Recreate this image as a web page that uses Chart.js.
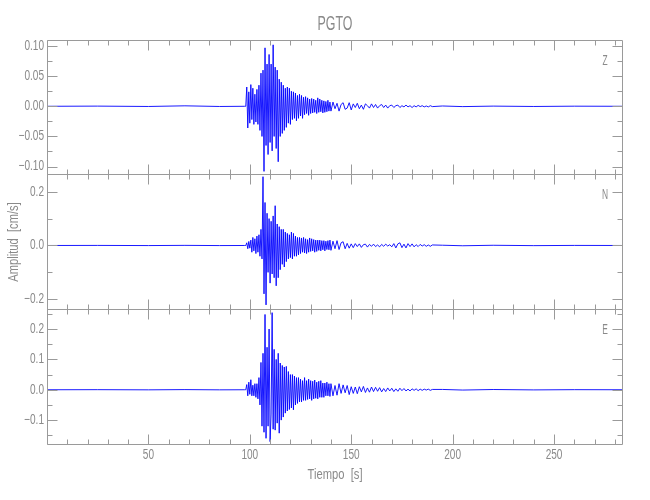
<!DOCTYPE html>
<html>
<head>
<meta charset="utf-8">
<script src="https://cdn.jsdelivr.net/npm/chart.js@4/dist/chart.umd.min.js"></script>
<style>
  body { margin: 0; background: #fff; }
  #caja { position: relative; width: 650px; height: 500px; }
  #caja canvas { position: absolute; left: 0; top: 0; }
</style>
</head>
<body>
<div id="caja">
  <canvas id="panelZ" width="650" height="500"></canvas>
  <canvas id="panelN" width="650" height="500"></canvas>
  <canvas id="panelE" width="650" height="500"></canvas>
</div>
<script>
// tiempos de muestreo [s]
const tiempoPre = [0, 25, 50, 68, 85, 97.5];
const tiempoCola = [195, 205, 220, 240, 260, 284];
// 98..140 cada 0.5 s, 141..190 cada 1 s (muestreo de la traza)
function rejilla(desde, hasta, paso) {
  const t = [];
  for (let v = desde; v <= hasta + 1e-9; v += paso) t.push(+v.toFixed(2));
  return t;
}
const tiempo = [...tiempoPre, ...rejilla(98, 140, 0.5), ...rejilla(141, 190, 1), ...tiempoCola];

// amplitud [cm/s] componente Z
const ampZ = [
  0, 0.0003, -0.0003, 0.0008, -0.0003, 0,
  0, 0.032, -0.036, 0.024, -0.028, 0.036, -0.022, 0.03, -0.03, 0.02,
  -0.026, 0.028, -0.03, 0.035, -0.04, 0.055, -0.05, 0.06, -0.108, 0.097,
  -0.065, 0.07, -0.08, 0.086, -0.06, 0.07, -0.074, 0.102, -0.05, 0.065,
  -0.07, 0.06, -0.092, 0.045, -0.05, 0.04, -0.045, 0.035, -0.04, 0.03,
  -0.035, 0.032, -0.028, 0.03, -0.03, 0.025, -0.022, 0.024, -0.02, 0.022,
  -0.024, 0.018, -0.02, 0.02, -0.016, 0.018, -0.02, 0.015, -0.014, 0.016,
  -0.012, 0.014, -0.015, 0.012, -0.012, 0.013, -0.011, 0.012, -0.01, 0.01,
  -0.012, 0.014, -0.01, 0.012, -0.009, 0.01, -0.011, 0.009, -0.01, 0.008,
  -0.009, 0.01, -0.008, 0.007, -0.008,
  0.007, -0.004, 0.005, -0.008, 0.003, 0.006, -0.005, -0.003, 0.006, -0.006,
  0.004, -0.002, 0.005, -0.004, 0.002, -0.005, 0.004, 0.001, -0.003, 0.004,
  -0.002, 0.003, -0.003, 0.001, 0.003, -0.002, 0.002, -0.003, 0.001, 0.002,
  -0.002, 0.001, 0.002, -0.002, 0.001, -0.001, 0.002, -0.001, 0.001, -0.002,
  0.001, -0.001, 0.0015, -0.0005, 0.001, -0.001, 0.0005, -0.001, 0.001, -0.0005,
  0.0005, -0.0005, 0.0003, -0.0003, 0.0002, 0
];
// componente N
const ampN = [
  0, 0.0003, -0.0003, 0.0005, -0.0003, 0,
  0, 0.01, -0.012, 0.015, -0.01, 0.02, -0.025, 0.03, -0.02, 0.025,
  -0.03, 0.035, -0.025, 0.04, -0.04, 0.06, -0.05, 0.256, -0.18, 0.16,
  -0.221, 0.12, -0.1, 0.1, -0.14, 0.09, -0.106, 0.11, -0.12, 0.148,
  -0.15, 0.08, -0.12, 0.07, -0.09, 0.06, -0.07, 0.06, -0.08, 0.05,
  -0.06, 0.045, -0.05, 0.04, -0.045, 0.05, -0.05, 0.045, -0.04, 0.035,
  -0.04, 0.03, -0.035, 0.03, -0.03, 0.028, -0.025, 0.03, -0.028, 0.025,
  -0.03, 0.022, -0.025, 0.028, -0.022, 0.025, -0.02, 0.022, -0.025, 0.02,
  -0.022, 0.02, -0.018, 0.02, -0.02, 0.018, -0.016, 0.018, -0.02, 0.016,
  -0.015, 0.018, -0.016, 0.02, -0.018,
  0.016, -0.012, 0.018, -0.015, 0.01, 0.014, -0.012, 0.008, -0.01, 0.006,
  -0.008, 0.007, -0.004, 0.006, -0.007, 0.003, 0.005, -0.006, 0.004, -0.003,
  0.005, -0.004, 0.002, -0.005, 0.004, -0.003, 0.005, -0.002, 0.003, -0.005,
  0.007, -0.009, 0.006, 0.01, -0.008, 0.005, -0.009, 0.007, -0.004, 0.006,
  -0.005, 0.003, -0.004, 0.004, -0.002, 0.003, -0.003, 0.002, -0.003, 0.002,
  0.001, -0.001, 0.0008, -0.0005, 0.0003, 0
];
// componente E
const ampE = [
  0, 0.0003, -0.0003, 0.0005, -0.0003, 0,
  0, 0.017, -0.02, 0.025, -0.015, 0.033, -0.02, 0.015, -0.02, 0.02,
  -0.025, 0.02, -0.03, 0.04, -0.05, 0.09, -0.12, 0.12, -0.14, 0.248,
  -0.16, 0.14, -0.12, 0.2, -0.171, -0.08, 0.254, -0.13, 0.133, -0.133,
  0.1, -0.11, 0.12, -0.143, 0.088, -0.1, 0.08, -0.09, 0.075, -0.077,
  0.077, -0.07, 0.06, -0.065, 0.05, -0.06, 0.05, -0.066, 0.045, -0.05,
  0.04, -0.045, 0.04, -0.04, 0.035, -0.04, 0.03, -0.035, 0.04, -0.035,
  0.03, -0.032, 0.035, -0.03, 0.03, -0.035, 0.028, -0.03, 0.032, -0.028,
  0.025, -0.03, 0.028, -0.025, 0.03, -0.025, 0.022, -0.025, 0.022, -0.02,
  0.025, -0.02, 0.02, -0.022, 0.02,
  -0.02, 0.014, -0.018, 0.02, -0.012, 0.016, -0.01, 0.014, -0.016, 0.01,
  -0.012, 0.009, -0.013, 0.01, -0.007, 0.011, -0.009, 0.006, -0.008, 0.009,
  -0.006, 0.008, -0.005, 0.007, -0.007, 0.004, -0.006, 0.006, -0.004, 0.005,
  -0.006, 0.003, -0.005, 0.005, -0.003, 0.004, -0.004, 0.002, -0.004, 0.003,
  -0.002, 0.003, -0.003, 0.002, -0.002, 0.002, -0.001, 0.002, -0.002, 0.001,
  0.001, -0.001, 0.0008, -0.0005, 0.0003, 0
];

// marcas de los ejes
const xMayores = [0, 50, 100, 150, 200, 250];
const xMenores = [10, 20, 30, 40, 60, 70, 80, 90, 110, 120, 130, 140, 160, 170, 180, 190, 210, 220, 230, 240, 260, 270, 280];
const xEtiquetas = [50, 100, 150, 200, 250];
const yMayoresZ = [-0.10, -0.05, 0, 0.05, 0.10];
const yMenoresZ = [-0.075, -0.025, 0.025, 0.075];
const yEtiquetasZ = ['\u22120.10', '\u22120.05', '0.00', '0.05', '0.10'];
const yMayoresN = [-0.2, 0, 0.2];
const yMenoresN = [-0.1, 0.1];
const yEtiquetasN = ['\u22120.2', '0.0', '0.2'];
const yMayoresE = [-0.1, 0, 0.1, 0.2];
const yMenoresE = [-0.15, -0.05, 0.05, 0.15, 0.25];
const yEtiquetasE = ['\u22120.1', '0.0', '0.1', '0.2'];

const gris = '#8a8a8a';
const grisEje = '#9a9a9a';
const fuente = '"Liberation Sans", Arial, sans-serif';

function texto(ctx, s, x, y, align, size, sx, rot) {
  ctx.save();
  ctx.translate(x, y);
  if (rot) ctx.rotate(rot);
  ctx.scale(sx, 1);
  ctx.font = size + 'px ' + fuente;
  ctx.textAlign = align;
  ctx.textBaseline = 'middle';
  ctx.fillStyle = gris;
  ctx.fillText(s, 0, 0);
  ctx.restore();
}

const marco = {
  id: 'marco',
  afterDatasetsDraw(chart, args, o) {
    const ctx = chart.ctx, a = chart.chartArea;
    const sx = chart.scales.x, sy = chart.scales.y;
    const L = Math.round(a.left) + 0.5, R = Math.round(a.right) - 0.5;
    const T = Math.round(a.top) + 0.5, B = Math.round(a.bottom) - 0.5;
    ctx.save();
    ctx.strokeStyle = grisEje;
    ctx.lineWidth = 1;
    ctx.beginPath();
    ctx.rect(L, T, R - L, B - T);
    const marcaX = (v, len) => {
      const px = Math.round(sx.getPixelForValue(v)) + 0.5;
      ctx.moveTo(px, T); ctx.lineTo(px, T + len);
      ctx.moveTo(px, B); ctx.lineTo(px, B - len);
    };
    const marcaY = (v, len) => {
      const py = Math.round(sy.getPixelForValue(v)) + 0.5;
      ctx.moveTo(L, py); ctx.lineTo(L + len, py);
      ctx.moveTo(R, py); ctx.lineTo(R - len, py);
    };
    xMayores.forEach(v => marcaX(v, 10));
    xMenores.forEach(v => marcaX(v, 5));
    o.yMayores.forEach(v => marcaY(v, 10));
    o.yMenores.forEach(v => marcaY(v, 5));
    ctx.stroke();
    ctx.restore();

    o.yMayores.forEach((v, i) => texto(ctx, o.yEtiquetas[i], a.left - 3, sy.getPixelForValue(v), 'right', 14, 0.72));
    texto(ctx, o.componente, a.right - 18, a.top + 21, 'center', 14, 0.6);

    if (o.titulo) texto(ctx, o.titulo, (a.left + a.right) / 2, 24, 'center', 20, 0.62);
    if (o.ejeY) texto(ctx, o.ejeY, 14, a.top + (a.bottom - a.top) / 2, 'center', 14, 0.8, -Math.PI / 2);
    if (o.ejeX) {
      xEtiquetas.forEach(v => texto(ctx, String(v), sx.getPixelForValue(v), a.bottom + 10, 'center', 14, 0.72));
      texto(ctx, o.ejeX, (a.left + a.right) / 2, a.bottom + 30, 'center', 14, 0.8);
    }
  }
};

function panel(id, amp, yMin, yMax, arriba, abajo, opciones) {
  const puntos = tiempo.map((t, i) => ({ x: t, y: amp[i] }));
  return new Chart(document.getElementById(id), {
    type: 'line',
    data: {
      datasets: [{
        data: puntos,
        borderColor: 'rgba(0,0,255,0.9)',
        borderWidth: 1,
        pointRadius: 0,
        tension: 0,
        fill: false
      }]
    },
    options: {
      responsive: false,
      animation: false,
      events: [],
      layout: { padding: { left: 47, right: 27, top: arriba, bottom: abajo } },
      plugins: {
        legend: { display: false },
        tooltip: { enabled: false },
        marco: opciones
      },
      scales: {
        x: { type: 'linear', min: 0, max: 284, display: false },
        y: { type: 'linear', min: yMin, max: yMax, display: false }
      }
    },
    plugins: [marco]
  });
}

panel('panelZ', ampZ, -0.114, 0.11, 40, 325, {
  yMayores: yMayoresZ, yMenores: yMenoresZ, yEtiquetas: yEtiquetasZ,
  componente: 'Z', titulo: 'PGTO'
});
panel('panelN', ampN, -0.24, 0.266, 174, 190, {
  yMayores: yMayoresN, yMenores: yMenoresN, yEtiquetas: yEtiquetasN,
  componente: 'N', ejeY: 'Amplitud  [cm/s]'
});
panel('panelE', ampE, -0.182, 0.266, 309, 55, {
  yMayores: yMayoresE, yMenores: yMenoresE, yEtiquetas: yEtiquetasE,
  componente: 'E', ejeX: 'Tiempo  [s]'
});
</script>
</body>
</html>
